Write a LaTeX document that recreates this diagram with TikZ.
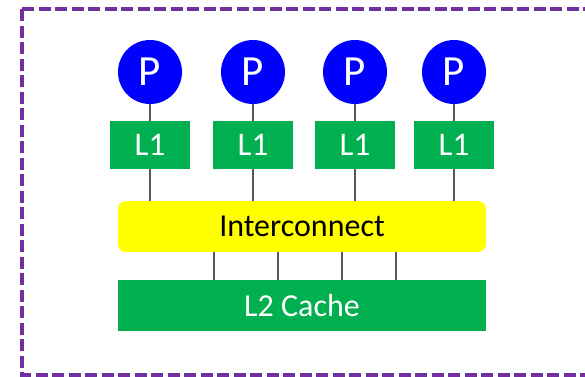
\documentclass[tikz,border=0pt]{standalone}
\usepackage{fontspec}
\setmainfont{Carlito}
\definecolor{pblue}{HTML}{0000FF}
\definecolor{cgreen}{HTML}{00B050}
\definecolor{iyellow}{HTML}{FFFF00}
\definecolor{bpurple}{HTML}{7030A0}
\definecolor{lgray}{HTML}{595959}
\begin{document}
\begin{tikzpicture}[x=1pt,y=-1pt,
  proc/.style={circle,fill=pblue,inner sep=0pt,minimum size=64pt,text=white,font=\fontsize{43}{43}\selectfont},
  lone/.style={rectangle,fill=cgreen,inner sep=0pt,minimum width=80pt,minimum height=48pt,text=white,font=\fontsize{33}{33}\selectfont},
  bus/.style={rectangle,rounded corners=8pt,fill=iyellow,inner sep=0pt,minimum width=368pt,minimum height=51pt,text=black,font=\fontsize{32}{32}\selectfont},
  ltwo/.style={rectangle,fill=cgreen,inner sep=0pt,minimum width=368pt,minimum height=51pt,text=white,font=\fontsize{32}{32}\selectfont},
  wire/.style={draw=lgray,line width=1.5pt},
  border/.style={draw=bpurple,line width=3.5pt,dash pattern=on 12pt off 4.5pt}]
\useasboundingbox (0,0) rectangle (585,376);
\draw[border] (22,9) -- (600,9);
\draw[border] (22,9) -- (22,375) -- (600,375);
\foreach \i/\x in {1/150,2/253,3/355,4/454}{
  \node[proc] (p\i) at (\x,72) {P};
  \node[lone] (lc\i) at (\x,145) {L1};
  \draw[wire] (p\i) -- (lc\i);
}
\node[bus] (ic) at (302,226.5) {Interconnect};
\node[ltwo] (ltc) at (302,305.5) {L2 Cache};
\foreach \i in {1,...,4}{
  \draw[wire] (lc\i.south) -- (lc\i.south |- ic.north);
}
\foreach \x in {214,278,342,396}{
  \draw[wire] (\x,252) -- (\x,280);
}
\end{tikzpicture}
\end{document}
